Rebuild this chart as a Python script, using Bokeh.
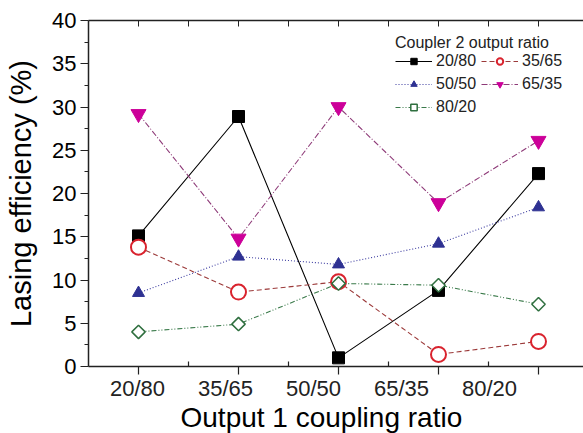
from bokeh.plotting import figure
from bokeh.models import FixedTicker, LinearAxis, Legend, LegendItem, Title, Range1d
from bokeh.embed import file_html
from bokeh.resources import INLINE

# ---- data ----
x_pos = [1, 2, 3, 4, 5]
categories = ["20/80", "35/65", "50/50", "65/35", "80/20"]  # output 1 coupling ratio
series_names = ["20/80", "35/65", "50/50", "65/35", "80/20"]  # coupler 2 output ratio
s_20_80 = [15.1, 28.9, 1.0, 8.8, 22.3]
s_35_65 = [13.8, 8.6, 9.8, 1.4, 2.9]
s_50_50 = [8.5, 12.7, 11.8, 14.2, 18.4]
s_65_35 = [29.2, 14.8, 30.0, 18.9, 26.1]
s_80_20 = [4.0, 4.9, 9.6, 9.4, 7.2]
y_ticks = [0, 5, 10, 15, 20, 25, 30, 35, 40]

FONT = "Liberation Sans"
AX = "#222222"
FRAME_H = 346

p = figure(width=583, height=433, output_backend="svg", toolbar_location=None,
           x_range=Range1d(0.5, 5.45), y_range=Range1d(0, 40),
           min_border_left=88, min_border_right=0, min_border_top=20,
           min_border_bottom=67, x_axis_location=None, y_axis_location="left")
p.grid.grid_line_color = None
p.outline_line_color = None
p.background_fill_color = "white"
p.border_fill_color = "white"

# y axis
ya = p.yaxis[0]
ya.ticker = FixedTicker(ticks=y_ticks, minor_ticks=[v + 2.5 for v in y_ticks[:-1]])
ya.major_tick_out = 8
ya.major_tick_in = 0
ya.minor_tick_out = 4
ya.minor_tick_in = 0
ya.axis_line_width = 1.5
ya.axis_line_color = AX
ya.major_tick_line_color = AX
ya.minor_tick_line_color = AX
ya.major_tick_line_width = 1.2
ya.major_label_text_font = FONT
ya.major_label_text_font_size = "22px"
ya.major_label_text_color = "black"
ya.major_label_standoff = 4
ya.axis_label = "Lasing efficiency (%)"
ya.axis_label_text_font = FONT
ya.axis_label_text_font_size = "29px"
ya.axis_label_text_font_style = "normal"
ya.axis_label_text_color = "black"
ya.axis_label_standoff = 12

# bottom axis: line, tick marks at the points (as minor ticks) and shifted category labels
label_pos = [round(0.99 + 0.88 * i, 2) for i in range(len(categories))]
ax1 = LinearAxis(ticker=FixedTicker(ticks=label_pos, minor_ticks=x_pos),
                 major_label_overrides={lp: c for lp, c in zip(label_pos, categories)},
                 major_tick_out=0, major_tick_in=0, major_tick_line_color=None,
                 minor_tick_out=8, minor_tick_in=0, minor_tick_line_color=AX,
                 minor_tick_line_width=1.2,
                 axis_line_width=1.5, axis_line_color=AX,
                 major_label_text_font=FONT, major_label_text_font_size="22px",
                 major_label_text_color="#222222", major_label_standoff=1)
p.add_layout(ax1, "below")

# short inner ticks between the points on the bottom axis
mid_ticks = [x + 0.5 for x in x_pos[:-1]]
inner_len = 5 * 40 / FRAME_H
p.segment(x0=mid_ticks, y0=[0] * len(mid_ticks), x1=mid_ticks,
          y1=[inner_len] * len(mid_ticks), line_color=AX, line_width=1.2)

# top axis
top_ticks = [x_pos[0] + 0.5 * i for i in range(2 * len(x_pos) - 1)]
ax3 = LinearAxis(ticker=FixedTicker(ticks=top_ticks, minor_ticks=[]),
                 major_tick_in=6, major_tick_out=0,
                 major_label_overrides={t: "" for t in top_ticks},
                 major_label_text_font_size="0px", major_label_standoff=0,
                 axis_line_width=1.5, axis_line_color=AX, major_tick_line_color=AX)
p.add_layout(ax3, "above")

# x title
p.add_layout(Title(text="Output 1 coupling ratio", align="left", offset=92, standoff=-4,
                   vertical_align="top",
                   text_font=FONT, text_font_size="28px", text_font_style="normal",
                   text_color="black"), "below")

# ---- series ----
styles = [
    dict(data=s_20_80, line_color="black", dash="solid", marker="square", size=12,
         fill="black", mline="black", mlw=1),
    dict(data=s_35_65, line_color="#9c3a3a", dash="5 3", marker="circle", size=15,
         fill="white", mline="#d9232e", mlw=2),
    dict(data=s_50_50, line_color="#3c3ca0", dash="1 2", marker="triangle", size=12,
         fill="#2e3192", mline="#2e3192", mlw=1),
    dict(data=s_65_35, line_color="#8e3a78", dash="6 2 1 2", marker="inverted_triangle",
         size=15, fill="#cc0099", mline="#cc0099", mlw=1),
    dict(data=s_80_20, line_color="#3a7a4a", dash="5 2 1 2 1 2", marker="square",
         size=9.5, fill="white", mline="#2f6f3f", mlw=1.5, angle=0.785398),
]

item_map = {}
for name, st in zip(series_names, styles):
    lr = p.line(x_pos, st["data"], line_color=st["line_color"], line_dash=st["dash"],
                line_width=1.1)
    sr = p.scatter(x_pos, st["data"], marker=st["marker"], size=st["size"],
                   fill_color=st["fill"], line_color=st["mline"], line_width=st["mlw"],
                   angle=st.get("angle", 0))
    item_map[name] = LegendItem(label=name, renderers=[lr, sr])

# legend fills column-wise: order so that rows read 20/80,35/65 / 50/50,65/35 / 80/20
legend_order = [series_names[i] for i in (0, 2, 4, 1, 3)]
legend = Legend(items=[item_map[n] for n in legend_order], location=(307, 250), ncols=2,
                title="Coupler 2 output ratio", title_text_font=FONT,
                title_text_font_size="16px", title_text_font_style="normal",
                title_text_color="#222222", title_standoff=0,
                label_text_font=FONT, label_text_font_size="16px",
                label_text_color="#222222",
                glyph_width=37, glyph_height=16, label_height=16, label_standoff=4,
                spacing=5, padding=0, margin=0, border_line_color=None,
                background_fill_alpha=0)
p.add_layout(legend)

open("out.html", "w").write(file_html(p, INLINE))
